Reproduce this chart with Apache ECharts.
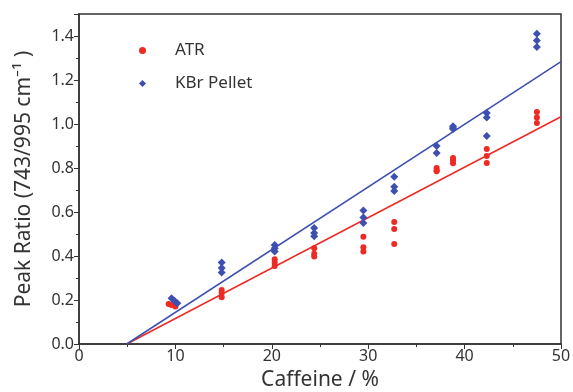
<!DOCTYPE html>
<html>
<head>
<meta charset="utf-8">
<script src="https://cdn.jsdelivr.net/npm/echarts@6/dist/echarts.min.js"></script>
<style>
  html, body { margin: 0; padding: 0; background: #fff; }
  #chart { width: 573px; height: 392px; }
</style>
</head>
<body>
<div id="chart"></div>
<script>
// caffeine content of each sample set (%)
const caffeineAtr = [9.3, 9.6, 10.0, 14.8, 14.8, 14.8, 20.3, 20.3, 20.3, 24.4, 24.4, 24.4,
  29.5, 29.5, 29.5, 32.7, 32.7, 32.7, 37.1, 37.1, 37.1, 38.8, 38.8, 38.8,
  42.3, 42.3, 42.3, 47.5, 47.5, 47.5];
const ratioAtr = [0.182, 0.177, 0.17, 0.245, 0.232, 0.212, 0.385, 0.37, 0.355, 0.435, 0.41, 0.398,
  0.487, 0.44, 0.42, 0.555, 0.523, 0.455, 0.80, 0.79, 0.785, 0.845, 0.835, 0.822,
  0.886, 0.855, 0.823, 1.055, 1.03, 1.005];

const caffeineKbr = [9.6, 9.9, 10.2, 14.8, 14.8, 14.8, 20.3, 20.3, 20.3, 24.4, 24.4, 24.4,
  29.5, 29.5, 29.5, 32.7, 32.7, 32.7, 37.1, 37.1, 38.8, 38.8, 38.8,
  42.3, 42.3, 42.3, 47.5, 47.5, 47.5];
const ratioKbr = [0.208, 0.197, 0.185, 0.37, 0.345, 0.325, 0.45, 0.435, 0.42, 0.527, 0.505, 0.49,
  0.607, 0.575, 0.55, 0.76, 0.715, 0.695, 0.90, 0.868, 0.99, 0.982, 0.977,
  1.05, 1.03, 0.945, 1.41, 1.38, 1.35];

// linear fits (end points)
const fitX = [4.95, 50];
const fitAtr = [0, 1.033];
const fitKbr = [0, 1.283];

const zip = (xs, ys) => xs.map((x, i) => [x, ys[i]]);

const font = 'Noto Sans';
const ink = '#333';
const red = '#ee2a24';
const blue = '#3d50b0';

const chart = echarts.init(document.getElementById('chart'));
chart.setOption({
  animation: false,
  textStyle: { fontFamily: font },
  grid: {
    left: 79,
    right: 12,
    top: 14,
    bottom: 48,
    outerBoundsMode: 'none',
    show: true,
    borderColor: ink,
    borderWidth: 1.5,
  },
  legend: {
    orient: 'vertical',
    left: 134,
    top: 37,
    itemGap: 16,
    itemWidth: 7,
    itemHeight: 7,
    data: ['ATR', 'KBr Pellet'],
    textStyle: { fontFamily: font, fontSize: 17, color: ink, padding: [0, 0, 0, 24] },
  },
  xAxis: {
    type: 'value',
    min: 0,
    max: 50,
    interval: 10,
    name: 'Caffeine / %',
    nameLocation: 'middle',
    nameGap: 26,
    nameTextStyle: { fontSize: 21, color: ink },
    axisLine: { lineStyle: { color: ink, width: 1.5 } },
    axisTick: { length: 5, lineStyle: { color: ink } },
    minorTick: { show: true, splitNumber: 2, length: 3, lineStyle: { color: ink } },
    axisLabel: { fontSize: 16, color: ink, margin: 4 },
    splitLine: { show: false },
  },
  yAxis: {
    type: 'value',
    min: 0,
    max: 1.5,
    interval: 0.2,
    name: 'Peak Ratio (743/995 cm⁻¹ )',
    nameLocation: 'middle',
    nameRotate: 90,
    nameGap: 44,
    nameTextStyle: { fontSize: 21, color: ink },
    axisLine: { lineStyle: { color: ink, width: 1.5 } },
    axisTick: { length: 5, lineStyle: { color: ink } },
    minorTick: { show: true, splitNumber: 2, length: 3, lineStyle: { color: ink } },
    axisLabel: {
      fontSize: 16,
      color: ink,
      margin: 5,
      formatter: v => (Math.abs(v * 5 - Math.round(v * 5)) < 1e-6 ? v.toFixed(1) : ''),
    },
    splitLine: { show: false },
  },
  series: [
    {
      name: 'ATR fit',
      type: 'line',
      data: zip(fitX, fitAtr),
      symbol: 'none',
      lineStyle: { color: red, width: 1.5 },
      z: 1,
    },
    {
      name: 'KBr fit',
      type: 'line',
      data: zip(fitX, fitKbr),
      symbol: 'none',
      lineStyle: { color: blue, width: 1.5 },
      z: 1,
    },
    {
      name: 'ATR',
      type: 'scatter',
      symbol: 'circle',
      symbolSize: 6,
      itemStyle: { color: red, opacity: 1 },
      data: zip(caffeineAtr, ratioAtr),
      z: 3,
    },
    {
      name: 'KBr Pellet',
      type: 'scatter',
      symbol: 'diamond',
      symbolSize: 8,
      itemStyle: { color: blue, opacity: 1 },
      data: zip(caffeineKbr, ratioKbr),
      z: 3,
    },
  ],
});
</script>
</body>
</html>
